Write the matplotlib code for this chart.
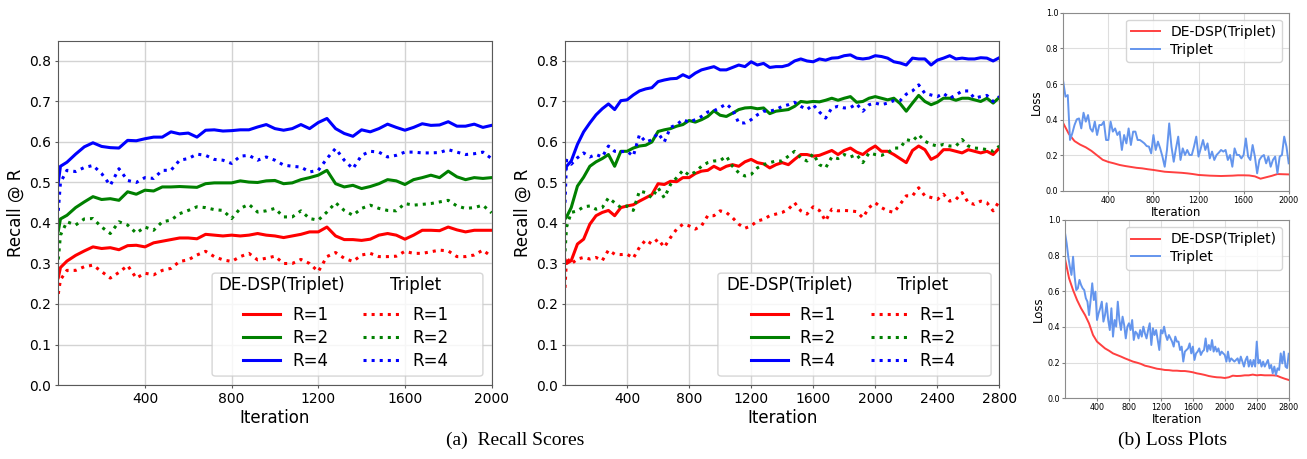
import numpy as np
import matplotlib.pyplot as plt
from matplotlib.lines import Line2D
from matplotlib.patches import FancyBboxPatch

# iterations (recall logged every 40 its, plus the first few)
iters_a = np.concatenate([[0, 10], np.arange(40, 2001, 40)])
iters_b = np.concatenate([[0, 10], np.arange(40, 2801, 40)])

# ---- recall @ R, left run (2000 its) ----
a_ours_r1 = [0.265, 0.29, 0.306, 0.32, 0.331, 0.341, 0.337, 0.339, 0.334, 0.344, 0.345, 0.341,
             0.351, 0.355, 0.359, 0.363, 0.363, 0.361, 0.372, 0.37, 0.368, 0.37,
             0.368, 0.37, 0.374, 0.37, 0.368, 0.364, 0.368, 0.372, 0.378, 0.378,
             0.39, 0.368, 0.359, 0.359, 0.357, 0.36, 0.37, 0.374, 0.37, 0.36,
             0.37, 0.382, 0.382, 0.381, 0.39, 0.383, 0.378, 0.382, 0.382, 0.382]
a_ours_r2 = [0.38, 0.41, 0.419, 0.438, 0.452, 0.465, 0.458, 0.46, 0.456, 0.477, 0.471, 0.481,
             0.479, 0.489, 0.489, 0.49, 0.489, 0.488, 0.497, 0.499, 0.499, 0.499,
             0.504, 0.501, 0.5, 0.504, 0.505, 0.497, 0.499, 0.507, 0.512, 0.518,
             0.53, 0.497, 0.489, 0.493, 0.485, 0.49, 0.497, 0.507, 0.504, 0.495,
             0.507, 0.512, 0.518, 0.512, 0.528, 0.514, 0.507, 0.512, 0.51, 0.512]
a_ours_r4 = [0.50, 0.54, 0.55, 0.57, 0.588, 0.598, 0.589, 0.586, 0.585, 0.604, 0.603, 0.608,
             0.612, 0.612, 0.625, 0.62, 0.622, 0.612, 0.629, 0.63, 0.627, 0.628,
             0.63, 0.63, 0.637, 0.643, 0.633, 0.629, 0.633, 0.643, 0.633, 0.648,
             0.658, 0.633, 0.621, 0.614, 0.63, 0.625, 0.633, 0.644, 0.636, 0.629,
             0.636, 0.645, 0.641, 0.642, 0.65, 0.639, 0.639, 0.644, 0.636, 0.641]
a_trip_r1 = [0.225, 0.26, 0.283, 0.283, 0.292, 0.296, 0.28, 0.264, 0.278, 0.295, 0.264, 0.276,
             0.272, 0.283, 0.288, 0.305, 0.309, 0.321, 0.33, 0.317, 0.309, 0.305,
             0.317, 0.325, 0.309, 0.313, 0.318, 0.3, 0.3, 0.31, 0.3, 0.28,
             0.317, 0.327, 0.313, 0.305, 0.321, 0.325, 0.317, 0.317, 0.318, 0.33,
             0.325, 0.325, 0.329, 0.333, 0.331, 0.317, 0.317, 0.321, 0.333, 0.317]
a_trip_r2 = [0.31, 0.37, 0.403, 0.395, 0.41, 0.411, 0.39, 0.374, 0.403, 0.395, 0.375, 0.39,
             0.382, 0.403, 0.407, 0.423, 0.431, 0.44, 0.438, 0.433, 0.431, 0.411,
             0.436, 0.446, 0.427, 0.43, 0.436, 0.415, 0.415, 0.43, 0.411, 0.407,
             0.427, 0.45, 0.431, 0.419, 0.436, 0.444, 0.436, 0.431, 0.43, 0.448,
             0.444, 0.446, 0.448, 0.452, 0.456, 0.442, 0.436, 0.438, 0.444, 0.425]
a_trip_r4 = [0.43, 0.50, 0.53, 0.527, 0.537, 0.542, 0.522, 0.493, 0.534, 0.505, 0.50, 0.512,
             0.51, 0.53, 0.53, 0.555, 0.559, 0.57, 0.567, 0.557, 0.555, 0.547,
             0.565, 0.567, 0.555, 0.563, 0.555, 0.543, 0.54, 0.538, 0.526, 0.53,
             0.559, 0.584, 0.555, 0.534, 0.567, 0.577, 0.575, 0.563, 0.567, 0.575,
             0.575, 0.573, 0.573, 0.574, 0.581, 0.575, 0.569, 0.571, 0.575, 0.559]

# ---- recall @ R, middle run (2800 its) ----
b_ours_r1 = [0.31, 0.30, 0.307, 0.348, 0.36, 0.397, 0.418, 0.426, 0.431, 0.418, 0.438, 0.442,
             0.445, 0.454, 0.462, 0.47, 0.497, 0.495, 0.503, 0.502, 0.512, 0.512,
             0.522, 0.528, 0.53, 0.54, 0.532, 0.54, 0.544, 0.54, 0.551, 0.557,
             0.549, 0.546, 0.536, 0.544, 0.549, 0.544, 0.557, 0.569, 0.569, 0.565,
             0.567, 0.573, 0.579, 0.569, 0.579, 0.585, 0.575, 0.569, 0.581, 0.59,
             0.577, 0.577, 0.569, 0.559, 0.549, 0.579, 0.59, 0.581, 0.557, 0.565,
             0.581, 0.581, 0.577, 0.573, 0.581, 0.577, 0.573, 0.577, 0.569, 0.585]
b_ours_r2 = [0.41, 0.415, 0.438, 0.491, 0.513, 0.54, 0.551, 0.559, 0.569, 0.54, 0.577, 0.577,
             0.585, 0.59, 0.592, 0.6, 0.626, 0.63, 0.633, 0.639, 0.643, 0.653,
             0.649, 0.655, 0.663, 0.677, 0.666, 0.663, 0.671, 0.68, 0.684, 0.685,
             0.682, 0.684, 0.67, 0.676, 0.678, 0.68, 0.688, 0.7, 0.698, 0.7,
             0.699, 0.703, 0.708, 0.703, 0.708, 0.712, 0.698, 0.7, 0.708, 0.712,
             0.708, 0.704, 0.708, 0.695, 0.676, 0.696, 0.715, 0.7, 0.692, 0.698,
             0.708, 0.708, 0.703, 0.708, 0.708, 0.704, 0.7, 0.708, 0.696, 0.71]
b_ours_r4 = [0.53, 0.54, 0.553, 0.594, 0.625, 0.647, 0.667, 0.682, 0.694, 0.68, 0.702, 0.704,
             0.716, 0.726, 0.731, 0.734, 0.749, 0.753, 0.756, 0.757, 0.766, 0.759,
             0.77, 0.778, 0.782, 0.786, 0.778, 0.778, 0.784, 0.79, 0.786, 0.798,
             0.79, 0.794, 0.784, 0.786, 0.786, 0.79, 0.8, 0.805, 0.8, 0.798,
             0.805, 0.802, 0.807, 0.808, 0.813, 0.815, 0.807, 0.805, 0.807, 0.813,
             0.811, 0.807, 0.798, 0.795, 0.79, 0.807, 0.805, 0.805, 0.79, 0.802,
             0.807, 0.813, 0.805, 0.807, 0.805, 0.805, 0.808, 0.807, 0.8, 0.808]
b_trip_r1 = [0.24, 0.315, 0.299, 0.311, 0.315, 0.311, 0.315, 0.307, 0.333, 0.323, 0.322, 0.323,
             0.313, 0.34, 0.358, 0.348, 0.36, 0.34, 0.364, 0.385, 0.397, 0.393,
             0.385, 0.393, 0.418, 0.418, 0.43, 0.426, 0.413, 0.397, 0.387, 0.393,
             0.405, 0.409, 0.418, 0.422, 0.426, 0.434, 0.45, 0.43, 0.422, 0.44,
             0.431, 0.405, 0.434, 0.43, 0.431, 0.43, 0.428, 0.413, 0.438, 0.45,
             0.438, 0.43, 0.426, 0.446, 0.467, 0.467, 0.487, 0.467, 0.463, 0.458,
             0.471, 0.454, 0.458, 0.475, 0.45, 0.446, 0.454, 0.45, 0.43, 0.454]
b_trip_r2 = [0.33, 0.39, 0.426, 0.43, 0.44, 0.442, 0.434, 0.438, 0.462, 0.45, 0.438, 0.442,
             0.431, 0.479, 0.475, 0.462, 0.487, 0.462, 0.495, 0.512, 0.53, 0.518,
             0.526, 0.54, 0.549, 0.553, 0.554, 0.565, 0.54, 0.524, 0.516, 0.52,
             0.536, 0.544, 0.549, 0.553, 0.553, 0.565, 0.577, 0.561, 0.553, 0.571,
             0.544, 0.536, 0.563, 0.559, 0.569, 0.563, 0.569, 0.549, 0.573, 0.569,
             0.567, 0.573, 0.585, 0.585, 0.606, 0.602, 0.618, 0.602, 0.594, 0.59,
             0.594, 0.59, 0.59, 0.606, 0.59, 0.585, 0.584, 0.581, 0.577, 0.59]
b_trip_r4 = [0.45, 0.555, 0.545, 0.561, 0.573, 0.563, 0.569, 0.563, 0.59, 0.577, 0.576, 0.577,
             0.565, 0.618, 0.6, 0.605, 0.622, 0.6, 0.636, 0.643, 0.655, 0.649,
             0.655, 0.663, 0.674, 0.677, 0.685, 0.694, 0.68, 0.647, 0.647, 0.655,
             0.667, 0.676, 0.676, 0.68, 0.688, 0.692, 0.698, 0.688, 0.68, 0.692,
             0.674, 0.659, 0.684, 0.688, 0.684, 0.685, 0.694, 0.676, 0.692, 0.696,
             0.692, 0.696, 0.702, 0.702, 0.718, 0.726, 0.741, 0.72, 0.716, 0.712,
             0.72, 0.708, 0.716, 0.726, 0.726, 0.708, 0.712, 0.715, 0.7, 0.712]

# ---- loss curves ----
loss_iters_a_trip = np.arange(0, 2001, 20)
loss_iters_a_ours = np.arange(0, 2001, 50)
loss_iters_b_trip = np.arange(0, 2801, 20)
loss_iters_b_ours = np.arange(0, 2801, 50)

la_trip = [0.613, 0.529, 0.538, 0.286, 0.323, 0.37, 0.402, 0.407, 0.351, 0.439,
           0.389, 0.426, 0.351, 0.333, 0.389, 0.314, 0.37, 0.37, 0.389, 0.286,
           0.286, 0.389, 0.333, 0.351, 0.314, 0.333, 0.23, 0.314, 0.267, 0.351,
           0.258, 0.333, 0.333, 0.286, 0.286, 0.277, 0.267, 0.252, 0.249, 0.211,
           0.314, 0.23, 0.277, 0.239, 0.193, 0.136, 0.23, 0.379, 0.249, 0.164,
           0.239, 0.305, 0.174, 0.239, 0.202, 0.23, 0.202, 0.202, 0.249, 0.305,
           0.193, 0.239, 0.286, 0.23, 0.267, 0.183, 0.221, 0.174, 0.202, 0.215,
           0.23, 0.221, 0.23, 0.174, 0.202, 0.136, 0.239, 0.202, 0.202, 0.183,
           0.202, 0.295, 0.193, 0.174, 0.258, 0.193, 0.099, 0.174, 0.193, 0.202,
           0.155, 0.193, 0.136, 0.174, 0.193, 0.099, 0.193, 0.202, 0.305, 0.249,
           0.155]
la_ours = [0.38, 0.32, 0.28, 0.26, 0.245, 0.225, 0.2, 0.175, 0.163, 0.155,
           0.146, 0.14, 0.135, 0.13, 0.127, 0.122, 0.118, 0.113, 0.108, 0.106,
           0.104, 0.102, 0.099, 0.095, 0.09, 0.088, 0.086, 0.085, 0.084, 0.085,
           0.086, 0.088, 0.088, 0.087, 0.082, 0.069, 0.077, 0.085, 0.095, 0.094,
           0.093]
lb_trip = [0.925, 0.869, 0.794, 0.738, 0.692, 0.794, 0.682, 0.607, 0.617, 0.664,
           0.636, 0.617, 0.607, 0.561, 0.542, 0.467, 0.551, 0.645, 0.551, 0.598,
           0.439, 0.477, 0.505, 0.542, 0.43, 0.467, 0.533, 0.439, 0.383, 0.505,
           0.346, 0.439, 0.402, 0.542, 0.439, 0.383, 0.458, 0.411, 0.336, 0.402,
           0.421, 0.383, 0.439, 0.327, 0.374, 0.364, 0.336, 0.383, 0.346, 0.402,
           0.364, 0.336, 0.383, 0.421, 0.299, 0.393, 0.355, 0.383, 0.327, 0.271,
           0.383, 0.364, 0.402, 0.355, 0.327, 0.355, 0.336, 0.318, 0.29, 0.346,
           0.318, 0.318, 0.271, 0.29, 0.206, 0.262, 0.271, 0.28, 0.308, 0.252,
           0.29, 0.215, 0.252, 0.262, 0.28, 0.243, 0.262, 0.271, 0.336, 0.262,
           0.299, 0.271, 0.327, 0.262, 0.29, 0.262, 0.28, 0.243, 0.262, 0.252,
           0.243, 0.206, 0.262, 0.206, 0.224, 0.215, 0.206, 0.215, 0.224, 0.196,
           0.234, 0.206, 0.178, 0.215, 0.234, 0.178, 0.215, 0.178, 0.215, 0.178,
           0.318, 0.196, 0.215, 0.178, 0.206, 0.178, 0.196, 0.215, 0.168, 0.187,
           0.14, 0.178, 0.131, 0.168, 0.159, 0.252, 0.196, 0.262, 0.178, 0.17,
           0.25]
lb_ours = [0.78, 0.673, 0.607, 0.551, 0.505, 0.467, 0.42, 0.355, 0.318, 0.299,
           0.28, 0.267, 0.252, 0.243, 0.234, 0.224, 0.215, 0.206, 0.2, 0.193,
           0.183, 0.178, 0.172, 0.166, 0.163, 0.159, 0.158, 0.155, 0.155, 0.153,
           0.153, 0.15, 0.146, 0.14, 0.136, 0.131, 0.125, 0.121, 0.118, 0.117,
           0.114, 0.118, 0.127, 0.125, 0.126, 0.129, 0.129, 0.133, 0.129, 0.131,
           0.129, 0.129, 0.129, 0.127, 0.118, 0.11, 0.103]

r_labels = ['R=1', 'R=2', 'R=4']
r_colors = ['red', 'green', 'blue']

fig = plt.figure(figsize=(13.07, 4.59), dpi=100)


def recall_panel(rect, iters, ours, trip, xmax, frame_x, head_x):
    ax = fig.add_axes(rect)
    for vals, c in zip(ours, r_colors):
        ax.plot(iters, vals, color=c, lw=2.2)
    for vals, c in zip(trip, r_colors):
        ax.plot(iters, vals, color=c, lw=2.2, ls=':')
    ax.set_xlim(0, xmax)
    ax.set_ylim(0, 0.85)
    ax.set_xticks(np.arange(400, xmax + 1, 400))
    ax.set_yticks(np.arange(0, 0.81, 0.1))
    ax.tick_params(labelsize=10, length=2.5, pad=2.5, color='0.35')
    ax.grid(True, color='#d3d3d3', lw=1.0)
    ax.set_axisbelow(True)
    for s in ax.spines.values():
        s.set_color('0.35')
    ax.set_xlabel('Iteration', fontsize=12, labelpad=2)
    ax.set_ylabel('Recall @ R', fontsize=12, labelpad=3)

    # legend: two columns (ours / triplet) with headers
    handles = [Line2D([], [], color=c, lw=2.2) for c in r_colors]
    handles += [Line2D([], [], color=c, lw=2.2, ls=':') for c in r_colors]
    ax.legend(handles, r_labels + r_labels, ncol=2, loc='lower right',
              bbox_to_anchor=(0.915, 0.025), borderaxespad=0, frameon=False,
              fontsize=12, handlelength=2.2, handletextpad=0.72,
              columnspacing=2.1, labelspacing=0.3, borderpad=0.4)
    box = FancyBboxPatch((frame_x[0], 0.026), frame_x[1] - frame_x[0], 0.299,
                         boxstyle='round,pad=0,rounding_size=0.008',
                         transform=ax.transAxes, fc='white', ec='0.8',
                         alpha=0.8, lw=1, zorder=4.5)
    ax.add_patch(box)
    ax.text(head_x[0], 0.29, 'DE-DSP(Triplet)', transform=ax.transAxes,
            fontsize=12, ha='left', va='center', zorder=6)
    ax.text(head_x[1], 0.29, 'Triplet', transform=ax.transAxes,
            fontsize=12, ha='left', va='center', zorder=6)
    return ax


recall_panel([0.0446, 0.1612, 0.3315, 0.7501], iters_a,
             [a_ours_r1, a_ours_r2, a_ours_r4], [a_trip_r1, a_trip_r2, a_trip_r4],
             2000, (0.355, 0.980), (0.369, 0.766))
recall_panel([0.4323, 0.1612, 0.3323, 0.7501], iters_b,
             [b_ours_r1, b_ours_r2, b_ours_r4], [b_trip_r1, b_trip_r2, b_trip_r4],
             2800, (0.352, 0.981), (0.371, 0.764))


def loss_panel(rect, it_ours, ours, it_trip, trip, xmax):
    ax = fig.add_axes(rect)
    ax.plot(it_ours, ours, color='#ff4040', lw=1.4, label='DE-DSP(Triplet)')
    ax.plot(it_trip, trip, color='cornflowerblue', lw=1.4, label='Triplet')
    ax.set_xlim(0, xmax)
    ax.set_ylim(0, 1.0)
    ax.set_xticks(np.arange(400, xmax + 1, 400))
    ax.set_yticks(np.arange(0, 1.01, 0.2))
    ax.tick_params(labelsize=5.8, length=2, pad=1.5, color='0.5')
    ax.grid(True, color='#dedede', lw=0.8)
    ax.set_axisbelow(True)
    for s in ax.spines.values():
        s.set_color('0.55')
    ax.set_xlabel('Iteration', fontsize=8.5, labelpad=0.5)
    ax.set_ylabel('Loss', fontsize=8.5, labelpad=2)
    ax.legend(loc='upper right', fontsize=10, handlelength=2.1,
              handletextpad=0.7, labelspacing=0.25, borderpad=0.4)
    return ax


loss_panel([0.8135, 0.5839, 0.1725, 0.3884], loss_iters_a_ours, la_ours,
           loss_iters_a_trip, la_trip, 2000)
loss_panel([0.8149, 0.1322, 0.1711, 0.3885], loss_iters_b_ours, lb_ours,
           loss_iters_b_trip, lb_trip, 2800)

# sub-figure captions
fig.text(0.394, 0.04, '(a)  Recall Scores', fontsize=14, family='Liberation Serif',
         ha='center', va='center')
fig.text(0.8975, 0.04, '(b) Loss Plots', fontsize=14, family='Liberation Serif',
         ha='center', va='center')

fig.savefig('out.png', dpi=100)
